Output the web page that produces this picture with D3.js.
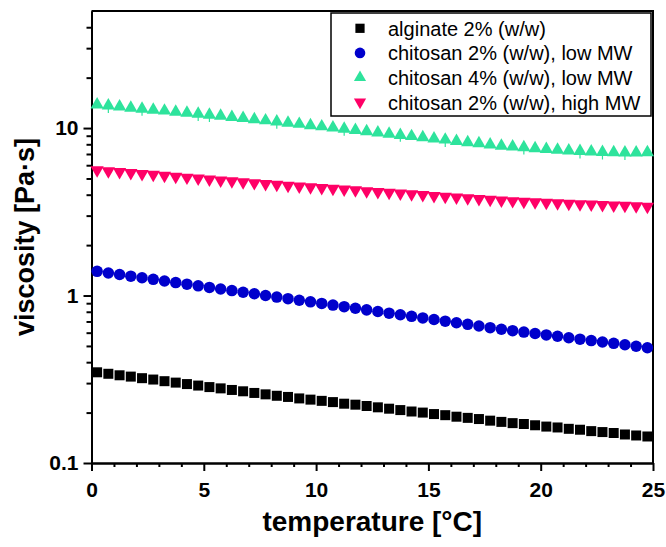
<!DOCTYPE html>
<html>
<head>
<meta charset="utf-8">
<script src="https://cdn.jsdelivr.net/npm/d3@7"></script>
<style>
  html, body { margin: 0; padding: 0; background: #fff; }
  svg { display: block; font-family: "Liberation Sans", Arial, Helvetica, sans-serif; }
</style>
</head>
<body>
<svg id="chart" width="666" height="547"></svg>
<script>
// Temperature ramp [°C]
const temperature = [
  0.25, 0.75, 1.25, 1.75, 2.25, 2.75, 3.25, 3.75, 4.25, 4.75,
  5.25, 5.75, 6.25, 6.75, 7.25, 7.75, 8.25, 8.75, 9.25, 9.75,
  10.25, 10.75, 11.25, 11.75, 12.25, 12.75, 13.25, 13.75, 14.25, 14.75,
  15.25, 15.75, 16.25, 16.75, 17.25, 17.75, 18.25, 18.75, 19.25, 19.75,
  20.25, 20.75, 21.25, 21.75, 22.25, 22.75, 23.25, 23.75, 24.25, 24.75
];

// Viscosity [Pa·s]
const alginate2 = [
  0.348, 0.341, 0.334, 0.328, 0.321, 0.315, 0.308, 0.302, 0.296, 0.290,
  0.284, 0.279, 0.273, 0.268, 0.262, 0.257, 0.252, 0.248, 0.243, 0.239,
  0.235, 0.231, 0.226, 0.223, 0.219, 0.215, 0.211, 0.207, 0.203, 0.200,
  0.196, 0.193, 0.189, 0.186, 0.183, 0.179, 0.176, 0.173, 0.171, 0.168,
  0.165, 0.163, 0.160, 0.158, 0.155, 0.153, 0.151, 0.148, 0.146, 0.144
];
const chitosan2Low = [
  1.395, 1.364, 1.335, 1.305, 1.277, 1.249, 1.222, 1.195, 1.169, 1.143,
  1.118, 1.094, 1.070, 1.046, 1.024, 1.001, 0.979, 0.958, 0.937, 0.917,
  0.897, 0.877, 0.858, 0.839, 0.821, 0.803, 0.785, 0.768, 0.751, 0.735,
  0.719, 0.703, 0.688, 0.673, 0.658, 0.643, 0.629, 0.617, 0.605, 0.593,
  0.582, 0.571, 0.560, 0.549, 0.538, 0.528, 0.518, 0.508, 0.498, 0.488
];
const chitosan4Low = [
  13.80, 13.61, 13.43, 13.21, 13.03, 12.85, 12.68, 12.50, 12.30, 12.13,
  11.97, 11.80, 11.61, 11.46, 11.27, 11.09, 10.91, 10.74, 10.57, 10.38,
  10.21, 10.05, 9.89, 9.70, 9.55, 9.40, 9.23, 9.08, 8.93, 8.79,
  8.65, 8.51, 8.36, 8.22, 8.09, 7.96, 7.83, 7.74, 7.66, 7.57,
  7.48, 7.40, 7.33, 7.28, 7.23, 7.19, 7.16, 7.14, 7.14, 7.16
];
// Standard deviation of the 4% low-MW measurement
const chitosan4LowErr = [
  0.2, 1.3, 0.2, 0.2, 1.2, 0.2, 0.2, 0.2, 0.2, 1.1,
  1.1, 0.2, 0.2, 0.2, 0.2, 0.2, 1.0, 0.2, 0.2, 0.2,
  0.2, 0.2, 0.9, 0.2, 0.2, 0.2, 0.2, 0.8, 0.2, 0.2,
  0.2, 0.8, 0.2, 0.2, 0.2, 0.2, 0.2, 0.2, 0.7, 0.2,
  0.2, 0.2, 0.2, 0.7, 0.2, 0.7, 0.2, 0.7, 0.2, 0.2
];
const chitosan2High = [
  5.61, 5.54, 5.47, 5.40, 5.33, 5.27, 5.20, 5.13, 5.07, 5.01,
  4.94, 4.88, 4.82, 4.76, 4.70, 4.64, 4.59, 4.54, 4.49, 4.44,
  4.40, 4.35, 4.30, 4.26, 4.21, 4.16, 4.12, 4.07, 4.03, 3.99,
  3.94, 3.90, 3.86, 3.82, 3.78, 3.74, 3.70, 3.67, 3.64, 3.61,
  3.59, 3.56, 3.54, 3.52, 3.50, 3.48, 3.46, 3.44, 3.42, 3.40
];

const seriesNames = [
  "alginate 2% (w/w)",
  "chitosan 2% (w/w), low MW",
  "chitosan 4% (w/w), low MW",
  "chitosan 2% (w/w), high MW"
];
const seriesColors = ["#000000", "#0000cc", "#2ee39c", "#ff0066"];

const xMajorTicks = [0, 5, 10, 15, 20, 25];
const xMinorTicks = [1, 2, 3, 4, 6, 7, 8, 9, 11, 12, 13, 14, 16, 17, 18, 19, 21, 22, 23, 24];
const yMajorTicks = [0.1, 1, 10];
const yTickLabels = ["0.1", "1", "10"];
const yMinorTicks = [0.2, 0.3, 0.4, 0.5, 0.6, 0.7, 0.8, 0.9, 2, 3, 4, 5, 6, 7, 8, 9, 20, 30, 40];

const xLabel = "temperature [°C]";
const yLabel = "viscosity [Pa·s]";

// ---- layout ----
const plotLeft = 91.5, plotRight = 653, plotTop = 11, plotBottom = 463;
const svg = d3.select("#chart");

const x = d3.scaleLinear().domain([0, 25]).range([plotLeft, plotRight]);
const y = d3.scaleLog().domain([0.1, 50]).range([plotBottom, plotTop]);

const symbols = [
  { type: d3.symbolSquare, size: 100, rotate: 0 },
  { type: d3.symbolCircle, size: 104, rotate: 0 },
  { type: d3.symbolTriangle, size: 76, rotate: 0 },
  { type: d3.symbolTriangle, size: 76, rotate: 180 }
];
const seriesValues = [alginate2, chitosan2Low, chitosan4Low, chitosan2High];

// ---- axes ----
function styleAxis(g) {
  g.selectAll("path.domain").attr("stroke", "#000").attr("stroke-width", 2);
  g.selectAll(".tick line").attr("stroke", "#000").attr("stroke-width", 2);
  g.selectAll(".tick text")
    .attr("fill", "#000")
    .style("font-size", "21px")
    .style("font-weight", "bold")
    .style("font-family", '"Liberation Sans", Arial, sans-serif');
}

svg.append("g")
  .attr("transform", `translate(0,${plotBottom})`)
  .call(d3.axisBottom(x).tickValues(xMinorTicks).tickSize(4).tickSizeOuter(0).tickFormat(""))
  .call(styleAxis);
svg.append("g")
  .attr("transform", `translate(0,${plotBottom})`)
  .call(d3.axisBottom(x).tickValues(xMajorTicks).tickSize(8).tickSizeOuter(0).tickPadding(11)
    .tickFormat(d3.format("d")))
  .call(styleAxis);

svg.append("g")
  .attr("transform", `translate(${plotLeft},0)`)
  .call(d3.axisLeft(y).tickValues(yMinorTicks).tickSize(5).tickSizeOuter(0).tickFormat(""))
  .call(styleAxis);
svg.append("g")
  .attr("transform", `translate(${plotLeft},0)`)
  .call(d3.axisLeft(y).tickValues(yMajorTicks).tickSize(8).tickSizeOuter(0).tickPadding(5)
    .tickFormat((d, i) => yTickLabels[i]))
  .call(styleAxis);

// frame: top and right edges
svg.append("path")
  .attr("d", `M${plotLeft},${plotTop}H${plotRight}V${plotBottom}`)
  .attr("fill", "none").attr("stroke", "#000").attr("stroke-width", 2);

// axis titles
svg.append("text")
  .attr("x", (plotLeft + plotRight) / 2).attr("y", 531)
  .attr("text-anchor", "middle")
  .style("font-size", "28px").style("font-weight", "bold")
  .text(xLabel);
svg.append("text")
  .attr("transform", `translate(34,${(plotTop + plotBottom) / 2}) rotate(-90)`)
  .attr("text-anchor", "middle")
  .style("font-size", "27px").style("font-weight", "bold")
  .text(yLabel);

// ---- data ----
// lower error bars of the 4% series (upper half hidden under the markers)
svg.append("g").selectAll("line")
  .data(temperature.map((t, i) => ({ t, v: chitosan4Low[i], e: chitosan4LowErr[i] })))
  .join("line")
  .attr("x1", d => x(d.t)).attr("x2", d => x(d.t))
  .attr("y1", d => y(d.v - d.e)).attr("y2", d => y(d.v))
  .attr("stroke", seriesColors[2]).attr("stroke-width", 1.2);

seriesValues.forEach((vals, s) => {
  const sym = d3.symbol().type(symbols[s].type).size(symbols[s].size);
  svg.append("g").selectAll("path")
    .data(temperature.map((t, i) => ({ t, v: vals[i] })))
    .join("path")
    .attr("d", sym)
    .attr("transform", d => `translate(${x(d.t)},${y(d.v)}) rotate(${symbols[s].rotate})`)
    .attr("fill", seriesColors[s]);
});

// ---- legend ----
const legend = svg.append("g");
legend.append("rect")
  .attr("x", 331).attr("y", 13).attr("width", 320).attr("height", 103)
  .attr("fill", "#fff").attr("stroke", "#000").attr("stroke-width", 1.5);
seriesNames.forEach((name, s) => {
  const cy = 28.3 + s * 24.6;
  legend.append("path")
    .attr("d", d3.symbol().type(symbols[s].type).size(symbols[s].size * 0.85))
    .attr("transform", `translate(360,${cy}) rotate(${symbols[s].rotate})`)
    .attr("fill", seriesColors[s]);
  legend.append("text")
    .attr("x", 388).attr("y", cy + 7.4)
    .style("font-size", "20px")
    .text(name);
});
</script>
</body>
</html>
